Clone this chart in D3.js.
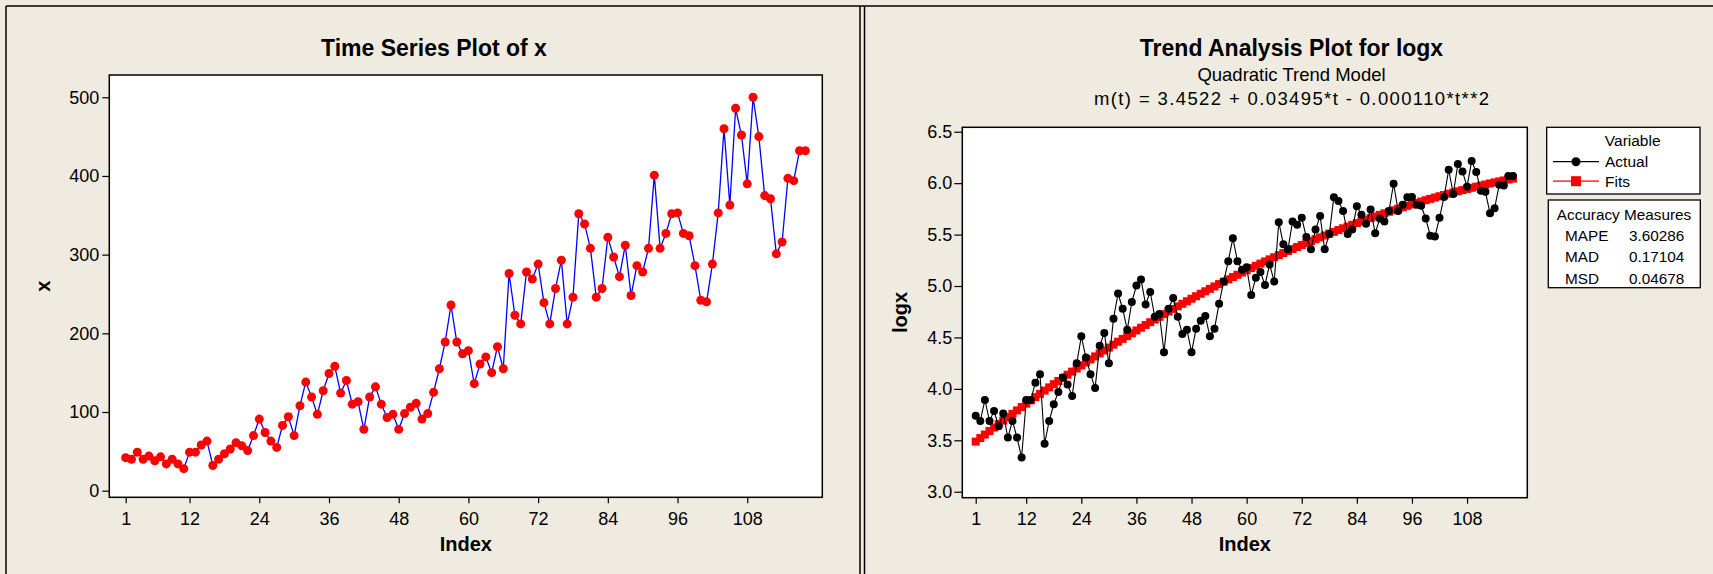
<!DOCTYPE html>
<html><head><meta charset="utf-8">
<script src="https://cdn.jsdelivr.net/npm/d3@7"></script>
<style>
body{margin:0;background:#EFEBE1;}
svg{display:block;font-family:"Liberation Sans",Arial,sans-serif;}
</style>
</head><body>
<svg id="c" width="1713" height="574"></svg>
<script>
// ---- data ----
const xValues = [42,40,49,40,44,38,43,34,40,34,
  28,49,49,58,63,32,40,47,53,61,
  57,51,70,91,74,63,55,83,94,70,
  108,138,119,97,127,149,158,124,140,110,
  113,78,119,132,110,93,97,78,98,106,
  111,91,98,125,155,189,236,189,174,178,
  136,161,170,150,183,155,276,223,212,278,
  269,288,239,212,257,293,212,246,352,339,
  308,246,257,322,297,272,312,248,286,278,
  308,401,308,327,352,353,327,324,286,242,
  240,288,353,460,363,486,452,390,500,450,
  375,371,301,316,397,394,432,432];
const indexTicks = [1,12,24,36,48,60,72,84,96,108];
const xAxisTicks = [0,100,200,300,400,500];
const logAxisTicks = [3.0,3.5,4.0,4.5,5.0,5.5,6.0,6.5];
const trendCoef = [3.4522, 0.03495, -0.000110]; // m(t) shown in chart
const legendNames = ["Actual","Fits"];
const accuracyNames = ["MAPE","MAD","MSD"];
const accuracyValues = ["3.60286","0.17104","0.04678"];

const idx = xValues.map((d,i)=>i+1);
const logValues = xValues.map(v=>Math.log(v));
const fitValues = idx.map(t=>trendCoef[0]+trendCoef[1]*t+trendCoef[2]*t*t);

const svg = d3.select("#c");
const BG = "#EFEBE1";

// window frames
svg.append("rect").attr("x",0).attr("y",0).attr("width",1713).attr("height",574).attr("fill",BG);
svg.append("line").attr("x1",6).attr("x2",1713).attr("y1",6).attr("y2",6).attr("stroke","#000").attr("stroke-width",1.5);
svg.append("line").attr("x1",6).attr("x2",6).attr("y1",6).attr("y2",574).attr("stroke","#000").attr("stroke-width",1.5);
svg.append("line").attr("x1",860).attr("x2",860).attr("y1",6).attr("y2",574).attr("stroke","#000").attr("stroke-width",1.5);
svg.append("line").attr("x1",864.5).attr("x2",864.5).attr("y1",6).attr("y2",574).attr("stroke","#000").attr("stroke-width",1.5);

function styleAxis(g){
  g.select(".domain").remove();
  g.selectAll("line").attr("stroke","#000").attr("stroke-width",1.2);
  g.selectAll("text").attr("font-size","18px").attr("fill","#000")
    .attr("font-family","'Liberation Sans',Arial,sans-serif");
}

// ---------- LEFT: Time Series Plot of x ----------
const L = {l:109.3, r:822.3, t:75, b:497.3};
const xL = d3.scaleLinear().domain([-1.82,120.92]).range([L.l,L.r]);
const yL = d3.scaleLinear().domain([-8.4,528.3]).range([L.b,L.t]);

svg.append("rect").attr("x",L.l).attr("y",L.t).attr("width",L.r-L.l).attr("height",L.b-L.t)
  .attr("fill","#fff").attr("stroke","#000").attr("stroke-width",1.5);

svg.append("g").attr("transform",`translate(${L.l},0)`)
  .call(d3.axisLeft(yL).tickValues(xAxisTicks).tickSize(7).tickPadding(3).tickSizeOuter(0))
  .call(styleAxis);
svg.append("g").attr("transform",`translate(0,${L.b})`)
  .call(d3.axisBottom(xL).tickValues(indexTicks).tickSize(6).tickPadding(9).tickSizeOuter(0))
  .call(styleAxis);

svg.append("path").datum(idx)
  .attr("d", d3.line().x(i=>xL(i)).y(i=>yL(xValues[i-1])))
  .attr("fill","none").attr("stroke","#0000FF").attr("stroke-width",1.3);
svg.append("g").selectAll("circle").data(idx).join("circle")
  .attr("cx",i=>xL(i)).attr("cy",i=>yL(xValues[i-1])).attr("r",4.5).attr("fill","#FF0000");

svg.append("text").attr("x",434).attr("y",56).attr("text-anchor","middle")
  .attr("font-size","23px").attr("font-weight","bold").text("Time Series Plot of x");
svg.append("text").attr("x",(L.l+L.r)/2).attr("y",551).attr("text-anchor","middle")
  .attr("font-size","20px").attr("font-weight","bold").text("Index");
svg.append("text").attr("transform",`translate(50,${(L.t+L.b)/2}) rotate(-90)`).attr("text-anchor","middle")
  .attr("font-size","20px").attr("font-weight","bold").text("x");

// ---------- RIGHT: Trend Analysis Plot for logx ----------
const R = {l:962.3, r:1527.3, t:127.3, b:497.7};
const xR = d3.scaleLinear().domain([-1.92,121.12]).range([R.l,R.r]);
const yR = d3.scaleLinear().domain([2.942,6.543]).range([R.b,R.t]);

svg.append("rect").attr("x",R.l).attr("y",R.t).attr("width",R.r-R.l).attr("height",R.b-R.t)
  .attr("fill","#fff").attr("stroke","#000").attr("stroke-width",1.5);

svg.append("g").attr("transform",`translate(${R.l},0)`)
  .call(d3.axisLeft(yR).tickValues(logAxisTicks).tickFormat(d3.format(".1f")).tickSize(8).tickPadding(2).tickSizeOuter(0))
  .call(styleAxis);
svg.append("g").attr("transform",`translate(0,${R.b})`)
  .call(d3.axisBottom(xR).tickValues(indexTicks).tickSize(6).tickPadding(9).tickSizeOuter(0))
  .call(styleAxis);

// fits
svg.append("path").datum(idx)
  .attr("d", d3.line().x(i=>xR(i)).y(i=>yR(fitValues[i-1])))
  .attr("fill","none").attr("stroke","#FF0000").attr("stroke-width",1.2);
svg.append("g").selectAll("rect").data(idx).join("rect")
  .attr("x",i=>xR(i)-4).attr("y",i=>yR(fitValues[i-1])-4).attr("width",8).attr("height",8).attr("fill","#FF0000");
// actual
svg.append("path").datum(idx)
  .attr("d", d3.line().x(i=>xR(i)).y(i=>yR(logValues[i-1])))
  .attr("fill","none").attr("stroke","#000").attr("stroke-width",1.1);
svg.append("g").selectAll("circle").data(idx).join("circle")
  .attr("cx",i=>xR(i)).attr("cy",i=>yR(logValues[i-1])).attr("r",4).attr("fill","#000");

svg.append("text").attr("x",1291.5).attr("y",56).attr("text-anchor","middle")
  .attr("font-size","23px").attr("font-weight","bold").text("Trend Analysis Plot for logx");
svg.append("text").attr("x",1291.5).attr("y",80.5).attr("text-anchor","middle")
  .attr("font-size","18.5px").text("Quadratic Trend Model");
svg.append("text").attr("x",1291.5).attr("y",104.5).attr("text-anchor","middle")
  .attr("font-size","18.5px").attr("textLength",395).attr("lengthAdjust","spacing")
  .text(`m(t) = ${trendCoef[0].toFixed(4)} + ${trendCoef[1].toFixed(5)}*t - ${Math.abs(trendCoef[2]).toFixed(6)}*t**2`);
svg.append("text").attr("x",(R.l+R.r)/2).attr("y",551).attr("text-anchor","middle")
  .attr("font-size","20px").attr("font-weight","bold").text("Index");
svg.append("text").attr("transform",`translate(907,${(R.t+R.b)/2}) rotate(-90)`).attr("text-anchor","middle")
  .attr("font-size","20px").attr("font-weight","bold").text("logx");

// legend
const lg = svg.append("g");
lg.append("rect").attr("x",1546.7).attr("y",127.3).attr("width",153.3).attr("height",66.7)
  .attr("fill","#fff").attr("stroke","#000").attr("stroke-width",1.3);
lg.append("text").attr("x",1632.7).attr("y",146).attr("text-anchor","middle").attr("font-size","15.5px").text("Variable");
legendNames.forEach((n,k)=>{
  const y = 161.7 + k*19.5;
  const col = k===0 ? "#000" : "#FF0000";
  lg.append("line").attr("x1",1553).attr("x2",1599).attr("y1",y).attr("y2",y).attr("stroke",col).attr("stroke-width",1.2);
  if(k===0) lg.append("circle").attr("cx",1576).attr("cy",y).attr("r",4.5).attr("fill",col);
  else lg.append("rect").attr("x",1571).attr("y",y-5).attr("width",10).attr("height",10).attr("fill",col);
  lg.append("text").attr("x",1605).attr("y",y+5.5).attr("font-size","15.5px").text(n);
});
// accuracy measures
const ac = svg.append("g");
ac.append("rect").attr("x",1548.3).attr("y",200).attr("width",152).attr("height",87.7)
  .attr("fill","#fff").attr("stroke","#000").attr("stroke-width",1.3);
ac.append("text").attr("x",1624).attr("y",219.5).attr("text-anchor","middle").attr("font-size","15.3px").text("Accuracy Measures");
accuracyNames.forEach((n,k)=>{
  const y = 240.5 + k*21.6;
  ac.append("text").attr("x",1565).attr("y",y).attr("font-size","15.3px").text(n);
  ac.append("text").attr("x",1629).attr("y",y).attr("font-size","15.3px").text(accuracyValues[k]);
});
</script>
</body></html>
